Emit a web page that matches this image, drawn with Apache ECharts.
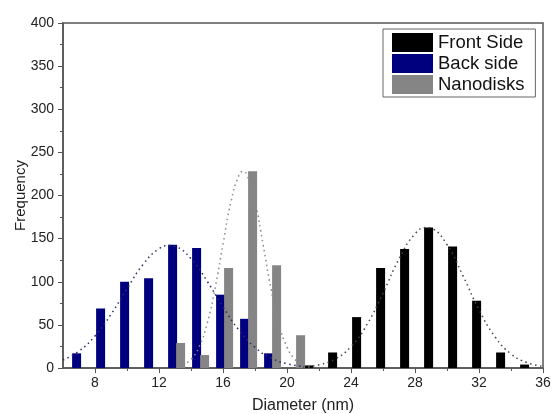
<!DOCTYPE html>
<html><head><meta charset="utf-8">
<script src="https://cdn.jsdelivr.net/npm/echarts@6/dist/echarts.min.js"></script>
<style>html,body{margin:0;padding:0;background:#fff}#c{width:552px;height:414px}</style>
</head><body><div id="c"></div>
<script>
// Bin centres (nm) and counts
const blueX = [6.85, 8.35, 9.85, 11.35, 12.85, 14.35, 15.85, 17.35, 18.85];
const blueY = [17, 69, 100, 104, 143, 139, 85, 57, 17];
const grayX = [13.35, 14.85, 16.35, 17.85, 19.35, 20.85];
const grayY = [29, 15, 116, 228, 119, 38];
const blackX = [21.35, 22.85, 24.35, 25.85, 27.35, 28.85, 30.35, 31.85, 33.35, 34.85];
const blackY = [3, 18, 59, 116, 138, 163, 141, 78, 18, 4];
// Fitted curves, points
const blueFitX = [6, 7, 8, 9, 10, 11, 12, 12.65, 13, 14, 15, 16, 17, 18, 19, 20, 21];
const blueFitY = [9.2, 19.6, 37.2, 62.2, 91.9, 120, 138.3, 142, 141, 126.8, 100.9, 70.8, 43.9, 24, 11.7, 5, 1.9];
const grayFitX = [13.5, 14, 14.5, 15, 15.5, 16, 16.5, 17, 17.25, 17.5, 18, 18.5, 19, 19.5, 20, 20.5, 21, 21.5];
const grayFitY = [3.6, 10, 24.3, 51, 92, 143.6, 193, 223.8, 228, 223.8, 193, 143.6, 92, 51, 24.3, 10, 3.6, 1.1];
const blackFitX = [21, 22, 23, 24, 25, 26, 27, 28, 28.75, 29, 30, 31, 32, 33, 34, 35, 36];
const blackFitY = [1.1, 3.65, 10.4, 24.9, 50.5, 86.8, 126.3, 155.5, 163, 162.2, 143.1, 106.9, 67.6, 36.2, 16.4, 6.3, 2.0];
// Tick labels
const xTicks = [8, 12, 16, 20, 24, 28, 32, 36];
const xMinorTicks = [10, 14, 18, 22, 26, 30, 34];
const seriesNames = ['Front Side', 'Back side', 'Nanodisks'];

const zip = (a, b) => a.map((v, i) => [v, b[i]]);
const font = 'Liberation Sans, Arial, sans-serif';
const chart = echarts.init(document.getElementById('c'), null, {renderer: 'canvas'});
chart.setOption({
  animation: false,
  backgroundColor: '#fff',
  grid: {left: 63, right: 9, top: 23, bottom: 46, outerBoundsMode: 'none', containLabel: false,
         show: true, borderColor: '#555', borderWidth: 1.5, backgroundColor: 'transparent'},
  legend: {
    data: seriesNames, orient: 'vertical', left: 383, top: 29,
    itemWidth: 41, itemHeight: 19, itemGap: 2, icon: 'rect',
    padding: [4, 11, 3, 9], borderColor: '#666', borderWidth: 1,
    textStyle: {fontSize: 18.5, fontFamily: font, color: '#111'}
  },
  xAxis: [{
    type: 'value', min: 6, max: 36,
    name: 'Diameter (nm)', nameLocation: 'middle', nameGap: 30, nameMoveOverlap: false,
    nameTextStyle: {fontSize: 16, fontFamily: font, color: '#222'},
    axisLine: {show: true, onZero: false, lineStyle: {color: '#555', width: 1.5}},
    axisTick: {show: true, customValues: xTicks, length: 5, lineStyle: {color: '#555', width: 1}},
    axisLabel: {customValues: xTicks, fontSize: 14, fontFamily: font, color: '#222', margin: 8},
    splitLine: {show: false}
  }, {
    type: 'value', min: 6, max: 36, position: 'bottom',
    axisLine: {show: false},
    axisTick: {show: true, customValues: xMinorTicks, length: 3, lineStyle: {color: '#555', width: 1}},
    axisLabel: {show: false},
    splitLine: {show: false}
  }],
  yAxis: {
    type: 'value', min: 0, max: 400, interval: 50,
    name: 'Frequency', nameLocation: 'middle', nameGap: 35, nameMoveOverlap: false,
    nameTextStyle: {fontSize: 15, fontFamily: font, color: '#222'},
    axisLine: {show: true, lineStyle: {color: '#555', width: 1.5}},
    axisTick: {show: true, length: 5, lineStyle: {color: '#555', width: 1}},
    minorTick: {show: true, splitNumber: 2, length: 3, lineStyle: {color: '#555', width: 1}},
    axisLabel: {fontSize: 14, fontFamily: font, color: '#222', margin: 9},
    splitLine: {show: false}
  },
  series: [
    {name: 'Front Side', type: 'bar', data: zip(blackX, blackY), barWidth: 9, barGap: '-100%', itemStyle: {color: '#000'}},
    {name: 'Back side', type: 'bar', data: zip(blueX, blueY), barWidth: 9, barGap: '-100%', itemStyle: {color: '#00007f'}},
    {name: 'Nanodisks', type: 'bar', data: zip(grayX, grayY), barWidth: 9, barGap: '-100%', itemStyle: {color: '#858585'}},
    {name: 'fitBlue', type: 'line', data: zip(blueFitX, blueFitY), smooth: true, showSymbol: false, z: 5,
     lineStyle: {color: '#2a2a6a', width: 1.5, type: [1.5, 3.5]}},
    {name: 'fitGray', type: 'line', data: zip(grayFitX, grayFitY), smooth: true, showSymbol: false, z: 5,
     lineStyle: {color: '#8a8a8a', width: 1.5, type: [1.5, 3.5]}},
    {name: 'fitBlack', type: 'line', data: zip(blackFitX, blackFitY), smooth: true, showSymbol: false, z: 5,
     lineStyle: {color: '#444', width: 1.5, type: [1.5, 3.5]}}
  ]
});
</script></body></html>
